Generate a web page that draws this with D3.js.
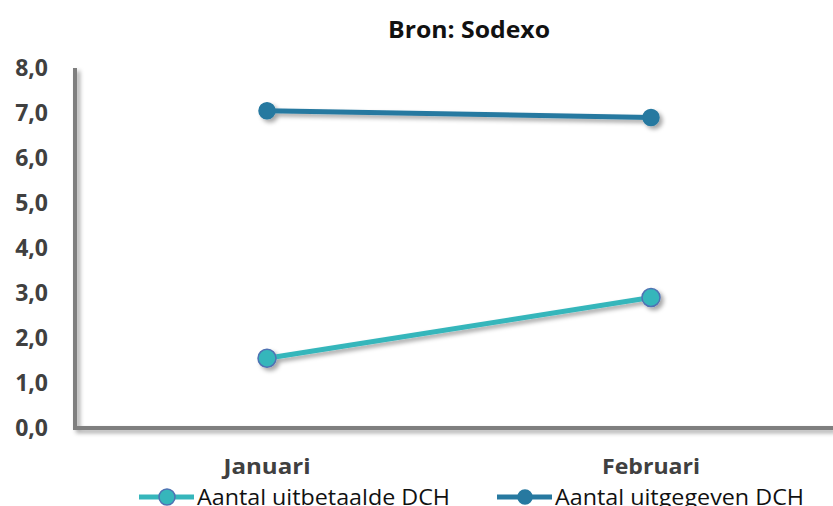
<!DOCTYPE html>
<html>
<head>
<meta charset="utf-8">
<script src="https://cdn.jsdelivr.net/npm/d3@7"></script>
<style>
  body { margin: 0; background: #fff; }
  svg { display: block; font-family: "Open Sans", Lato, sans-serif; }
</style>
</head>
<body>
<svg id="chart" width="833" height="506"></svg>
<script>
// Line chart: DCH counts per month (source Sodexo)
const months = ['Januari', 'Februari'];
const uitbetaald = [1.55, 2.9];
const uitgegeven = [7.05, 6.9];
const yTicks = [0, 1, 2, 3, 4, 5, 6, 7, 8];

const series = [
  { name: 'Aantal uitbetaalde DCH', values: uitbetaald, color: '#36b6bb', stroke: '#4f72b3', r: 9, len: 253 },
  { name: 'Aantal uitgegeven DCH', values: uitgegeven, color: '#2779a0', stroke: '#2779a0', r: 8, len: 249 }
];

const svg = d3.select('#chart');

const defs = svg.append('defs');
const shadow = defs.append('filter').attr('id', 'shadow')
  .attr('x', '-20%').attr('y', '-50%').attr('width', '140%').attr('height', '200%');
shadow.append('feDropShadow')
  .attr('dx', 3).attr('dy', 3).attr('stdDeviation', 2)
  .attr('flood-color', '#000').attr('flood-opacity', 0.35);

const x = d3.scalePoint().domain(months).range([267, 651]);
const y = d3.scaleLinear().domain([0, 8]).range([428, 68]);

// title
svg.append('text')
  .attr('x', 469).attr('y', 38)
  .attr('text-anchor', 'middle')
  .attr('font-size', 24).attr('font-weight', 'bold').attr('fill', '#111')
  .attr('textLength', 162).attr('lengthAdjust', 'spacingAndGlyphs')
  .text('Bron: Sodexo');

// axes lines (thick gray with shadow)
svg.append('path')
  .attr('d', `M75,${y(8)}V${y(0)}H833`)
  .attr('fill', 'none').attr('stroke', '#7f7f7f').attr('stroke-width', 4)
  .attr('filter', 'url(#shadow)');

// y tick labels
svg.append('g').selectAll('text').data(yTicks).join('text')
  .attr('x', 48).attr('y', d => y(d))
  .attr('dy', '0.36em')
  .attr('text-anchor', 'end')
  .attr('font-size', 23).attr('font-weight', 'bold').attr('fill', '#404040')
  .text(d => d3.format('.1f')(d).replace('.', ','));

// x labels
const xLen = [87, 98];
svg.append('g').selectAll('text').data(months).join('text')
  .attr('x', d => x(d)).attr('y', 474)
  .attr('text-anchor', 'middle')
  .attr('font-size', 22).attr('font-weight', 'bold').attr('fill', '#404040')
  .attr('textLength', (d, i) => xLen[i]).attr('lengthAdjust', 'spacingAndGlyphs')
  .text(d => d);

// lines and markers
const line = d3.line().x((d, i) => x(months[i])).y(d => y(d));
series.forEach(s => {
  const g = svg.append('g').attr('filter', 'url(#shadow)');
  g.append('path')
    .attr('d', line(s.values))
    .attr('fill', 'none').attr('stroke', s.color).attr('stroke-width', 5);
  g.selectAll('circle').data(s.values).join('circle')
    .attr('cx', (d, i) => x(months[i])).attr('cy', d => y(d))
    .attr('r', s.r)
    .attr('fill', s.color).attr('stroke', s.stroke).attr('stroke-width', 1.5);
});

// legend
const legendX = [139, 497];
const legend = svg.append('g').selectAll('g').data(series).join('g')
  .attr('transform', (d, i) => `translate(${legendX[i]},497)`);
legend.append('line')
  .attr('x1', 0).attr('x2', 55)
  .attr('stroke', d => d.color).attr('stroke-width', 5);
legend.append('circle')
  .attr('cx', 28).attr('r', (d, i) => i === 0 ? 8 : 7)
  .attr('fill', d => d.color).attr('stroke', d => d.stroke).attr('stroke-width', 1.5);
legend.append('text')
  .attr('x', 58).attr('dy', '0.36em')
  .attr('font-size', 21).attr('fill', '#111')
  .attr('textLength', d => d.len).attr('lengthAdjust', 'spacingAndGlyphs')
  .text(d => d.name);
</script>
</body>
</html>
